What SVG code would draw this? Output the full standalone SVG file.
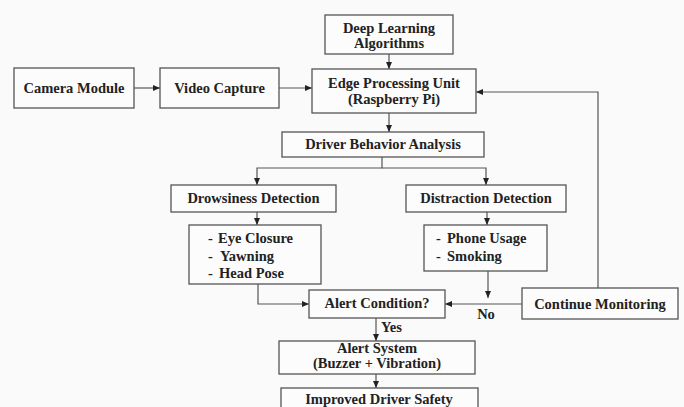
<svg xmlns="http://www.w3.org/2000/svg" width="684" height="407" viewBox="0 0 684 407">
<defs>
<marker id="ah" markerWidth="8" markerHeight="8" refX="7" refY="4" orient="auto" markerUnits="userSpaceOnUse">
<path d="M0,1 L7,4 L0,7 Z" fill="#222"/>
</marker>
<style>
.box{fill:#fcfcfc;stroke:#555;stroke-width:1.3}
.t{font-family:"Liberation Serif","Times New Roman",serif;font-weight:bold;font-size:14.5px;fill:#222;text-anchor:middle}
.l{font-family:"Liberation Serif","Times New Roman",serif;font-weight:bold;font-size:14.5px;fill:#222}
.c{fill:none;stroke:#555;stroke-width:1.2}
</style>
</defs>
<rect width="684" height="407" fill="#fafafa"/>
<g id="connectors">
<line class="c" x1="134" y1="88" x2="160" y2="88" marker-end="url(#ah)"/>
<line class="c" x1="279" y1="88" x2="312" y2="88" marker-end="url(#ah)"/>
<line class="c" x1="389" y1="54" x2="389" y2="69" marker-end="url(#ah)"/>
<line class="c" x1="389" y1="113" x2="389" y2="132" marker-end="url(#ah)"/>
<polyline class="c" points="382,157 382,168 257,168 257,185" marker-end="url(#ah)"/>
<polyline class="c" points="382,168 486,168 486,185" marker-end="url(#ah)"/>
<line class="c" x1="257" y1="212" x2="257" y2="225" marker-end="url(#ah)"/>
<line class="c" x1="487" y1="212" x2="487" y2="225" marker-end="url(#ah)"/>
<polyline class="c" points="258,284 258,304 309,304" marker-end="url(#ah)"/>
<line class="c" x1="488" y1="271" x2="488" y2="298" marker-end="url(#ah)"/>
<line class="c" x1="522" y1="304" x2="445" y2="304" marker-end="url(#ah)"/>
<polyline class="c" points="598,288 598,92 476,92" marker-end="url(#ah)"/>
<line class="c" x1="376" y1="318" x2="376" y2="341" marker-end="url(#ah)"/>
<line class="c" x1="376" y1="374" x2="376" y2="388" marker-end="url(#ah)"/>
<text class="t" x="486" y="319">No</text>
<text class="l" x="381" y="332">Yes</text>
</g>
<g id="camera"><rect class="box" x="14" y="68" width="120" height="40"/><text class="t" x="74" y="93">Camera Module</text></g>
<g id="video"><rect class="box" x="160" y="68" width="119" height="40"/><text class="t" x="219.5" y="93">Video Capture</text></g>
<g id="deep"><rect class="box" x="325" y="15" width="128" height="39"/><text class="t" x="389" y="33">Deep Learning</text><text class="t" x="389" y="48">Algorithms</text></g>
<g id="edge"><rect class="box" x="312" y="69" width="164" height="44"/><text class="t" x="394" y="88">Edge Processing Unit</text><text class="t" x="394" y="104">(Raspberry Pi)</text></g>
<g id="analysis"><rect class="box" x="282" y="132" width="202" height="25"/><text class="t" x="383" y="149">Driver Behavior Analysis</text></g>
<g id="drowsiness"><rect class="box" x="171" y="185" width="165" height="27"/><text class="t" x="253.5" y="203">Drowsiness Detection</text></g>
<g id="distraction"><rect class="box" x="406" y="185" width="160" height="27"/><text class="t" x="486" y="203">Distraction Detection</text></g>
<g id="drowsy-list"><rect class="box" x="189" y="225" width="132" height="59"/>
<text class="l" x="208" y="243">-</text><text class="l" x="218" y="243">Eye Closure</text>
<text class="l" x="208" y="261">-</text><text class="l" x="220" y="261">Yawning</text>
<text class="l" x="208" y="278">-</text><text class="l" x="219" y="278">Head Pose</text></g>
<g id="distract-list"><rect class="box" x="424" y="225" width="123" height="46"/>
<text class="l" x="436" y="243">-</text><text class="l" x="447" y="243">Phone Usage</text>
<text class="l" x="436" y="261">-</text><text class="l" x="447" y="261">Smoking</text></g>
<g id="alert-cond"><rect class="box" x="309" y="290" width="136" height="28"/><text class="t" x="377" y="308">Alert Condition?</text></g>
<g id="continue"><rect class="box" x="522" y="288" width="156" height="31"/><text class="t" x="600" y="309">Continue Monitoring</text></g>
<g id="alert-sys"><rect class="box" x="279" y="341" width="196" height="33"/><text class="t" x="377" y="353">Alert System</text><text class="t" x="377" y="368">(Buzzer + Vibration)</text></g>
<g id="safety"><rect class="box" x="281" y="388" width="197" height="30"/><text class="t" x="379" y="404">Improved Driver Safety</text></g>
</svg>
